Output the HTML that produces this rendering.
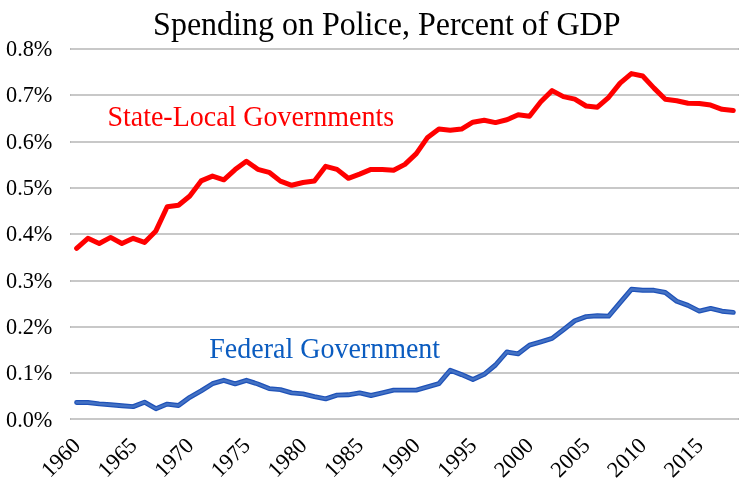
<!DOCTYPE html>
<html lang="en"><head><meta charset="utf-8"><title>Spending on Police, Percent of GDP</title>
<style>
html,body{margin:0;padding:0;background:#fff;}
body{width:755px;height:485px;overflow:hidden;}
svg{display:block;font-family:"Liberation Serif","Times New Roman",serif;}
</style></head><body>
<svg width="755" height="485" viewBox="0 0 755 485">
<rect width="755" height="485" fill="#ffffff"/>
<g stroke="#c8c8c8" stroke-width="2">
<line x1="70" y1="419" x2="739" y2="419"/>
<line x1="70" y1="373" x2="739" y2="373"/>
<line x1="70" y1="327" x2="739" y2="327"/>
<line x1="70" y1="281" x2="739" y2="281"/>
<line x1="70" y1="234" x2="739" y2="234"/>
<line x1="70" y1="188" x2="739" y2="188"/>
<line x1="70" y1="142" x2="739" y2="142"/>
<line x1="70" y1="95" x2="739" y2="95"/>
<line x1="70" y1="49" x2="739" y2="49"/>
</g>
<g fill="#bababa"><rect x="70" y="418" width="1" height="2"/><rect x="738" y="418" width="1" height="2"/><rect x="70" y="372" width="1" height="2"/><rect x="738" y="372" width="1" height="2"/><rect x="70" y="326" width="1" height="2"/><rect x="738" y="326" width="1" height="2"/><rect x="70" y="280" width="1" height="2"/><rect x="738" y="280" width="1" height="2"/><rect x="70" y="233" width="1" height="2"/><rect x="738" y="233" width="1" height="2"/><rect x="70" y="187" width="1" height="2"/><rect x="738" y="187" width="1" height="2"/><rect x="70" y="141" width="1" height="2"/><rect x="738" y="141" width="1" height="2"/><rect x="70" y="94" width="1" height="2"/><rect x="738" y="94" width="1" height="2"/><rect x="70" y="48" width="1" height="2"/><rect x="738" y="48" width="1" height="2"/></g>
<g font-size="22.3" fill="#000" text-anchor="start">
<text x="6" y="426.6">0.0%</text>
<text x="6" y="380.3">0.1%</text>
<text x="6" y="333.9">0.2%</text>
<text x="6" y="287.6">0.3%</text>
<text x="6" y="241.3">0.4%</text>
<text x="6" y="195.0">0.5%</text>
<text x="6" y="148.6">0.6%</text>
<text x="6" y="102.3">0.7%</text>
<text x="6" y="56.0">0.8%</text>
</g>
<g font-size="22.4" fill="#000">
<text transform="translate(50.0 478.4) rotate(-45)">1960</text>
<text transform="translate(106.6 478.4) rotate(-45)">1965</text>
<text transform="translate(163.2 478.4) rotate(-45)">1970</text>
<text transform="translate(219.8 478.4) rotate(-45)">1975</text>
<text transform="translate(276.4 478.4) rotate(-45)">1980</text>
<text transform="translate(333.0 478.4) rotate(-45)">1985</text>
<text transform="translate(389.7 478.4) rotate(-45)">1990</text>
<text transform="translate(446.3 478.4) rotate(-45)">1995</text>
<text transform="translate(502.9 478.4) rotate(-45)">2000</text>
<text transform="translate(559.5 478.4) rotate(-45)">2005</text>
<text transform="translate(616.1 478.4) rotate(-45)">2010</text>
<text transform="translate(672.7 478.4) rotate(-45)">2015</text>
</g>
<polyline fill="none" stroke="#ff0000" stroke-width="5.0" stroke-linejoin="round" stroke-linecap="round" points="76.6,248.3 87.9,238.3 99.2,243.5 110.6,237.4 121.9,243.5 133.2,238.3 144.5,242.4 155.9,230.9 167.2,206.7 178.5,205.3 189.8,196.0 201.1,180.9 212.5,176.1 223.8,179.8 235.1,169.6 246.4,161.2 257.8,169.3 269.1,172.3 280.4,181.1 291.7,185.3 303.0,182.5 314.4,181.1 325.7,166.3 337.0,169.4 348.3,178.3 359.6,174.1 371.0,169.4 382.3,169.4 393.6,170.3 404.9,164.4 416.3,153.6 427.6,137.4 438.9,129.1 450.2,130.3 461.5,129.1 472.9,122.2 484.2,120.3 495.5,122.6 506.8,119.8 518.2,114.8 529.5,116.2 540.8,101.8 552.1,90.6 563.4,96.6 574.8,99.1 586.1,106.0 597.4,107.2 608.7,97.3 620.1,83.1 631.4,73.6 642.7,76.0 654.0,88.1 665.3,99.2 676.7,100.7 688.0,103.3 699.3,103.6 710.6,105.1 722.0,109.3 733.3,110.5"/>
<polyline fill="none" stroke="#1f52b8" stroke-width="4.9" stroke-linejoin="round" stroke-linecap="round" points="76.6,402.5 87.9,402.5 99.2,403.9 110.6,404.8 121.9,405.7 133.2,406.6 144.5,402.2 155.9,408.7 167.2,404.1 178.5,405.5 189.8,397.3 201.1,390.9 212.5,383.7 223.8,380.3 235.1,383.8 246.4,380.3 257.8,384.0 269.1,388.6 280.4,389.6 291.7,392.9 303.0,393.9 314.4,396.6 325.7,398.8 337.0,395.1 348.3,394.8 359.6,392.9 371.0,395.5 382.3,392.9 393.6,390.1 404.9,390.1 416.3,390.1 427.6,386.8 438.9,383.6 450.2,370.3 461.5,374.6 472.9,379.5 484.2,374.3 495.5,365.0 506.8,352.0 518.2,353.8 529.5,345.1 540.8,341.8 552.1,338.4 563.4,329.7 574.8,320.8 586.1,316.6 597.4,315.7 608.7,316.1 620.1,302.7 631.4,289.3 642.7,290.3 654.0,290.3 665.3,292.5 676.7,301.2 688.0,305.4 699.3,311.1 710.6,308.4 722.0,311.2 733.3,312.4"/>
<polyline fill="none" stroke="#4472c4" stroke-width="2.4" stroke-linejoin="round" stroke-linecap="round" points="76.6,402.5 87.9,402.5 99.2,403.9 110.6,404.8 121.9,405.7 133.2,406.6 144.5,402.2 155.9,408.7 167.2,404.1 178.5,405.5 189.8,397.3 201.1,390.9 212.5,383.7 223.8,380.3 235.1,383.8 246.4,380.3 257.8,384.0 269.1,388.6 280.4,389.6 291.7,392.9 303.0,393.9 314.4,396.6 325.7,398.8 337.0,395.1 348.3,394.8 359.6,392.9 371.0,395.5 382.3,392.9 393.6,390.1 404.9,390.1 416.3,390.1 427.6,386.8 438.9,383.6 450.2,370.3 461.5,374.6 472.9,379.5 484.2,374.3 495.5,365.0 506.8,352.0 518.2,353.8 529.5,345.1 540.8,341.8 552.1,338.4 563.4,329.7 574.8,320.8 586.1,316.6 597.4,315.7 608.7,316.1 620.1,302.7 631.4,289.3 642.7,290.3 654.0,290.3 665.3,292.5 676.7,301.2 688.0,305.4 699.3,311.1 710.6,308.4 722.0,311.2 733.3,312.4"/>
<text transform="translate(153.1 34.5) scale(1 1.02)" font-size="32" fill="#000">Spending on Police, Percent of GDP</text>
<text transform="translate(107.4 125.8) scale(1 1.03)" font-size="28" fill="#ff0000">State-Local Governments</text>
<text transform="translate(209.3 357.8) scale(1 1.035)" font-size="28" fill="#0b5cc0">Federal Government</text>
</svg></body></html>
